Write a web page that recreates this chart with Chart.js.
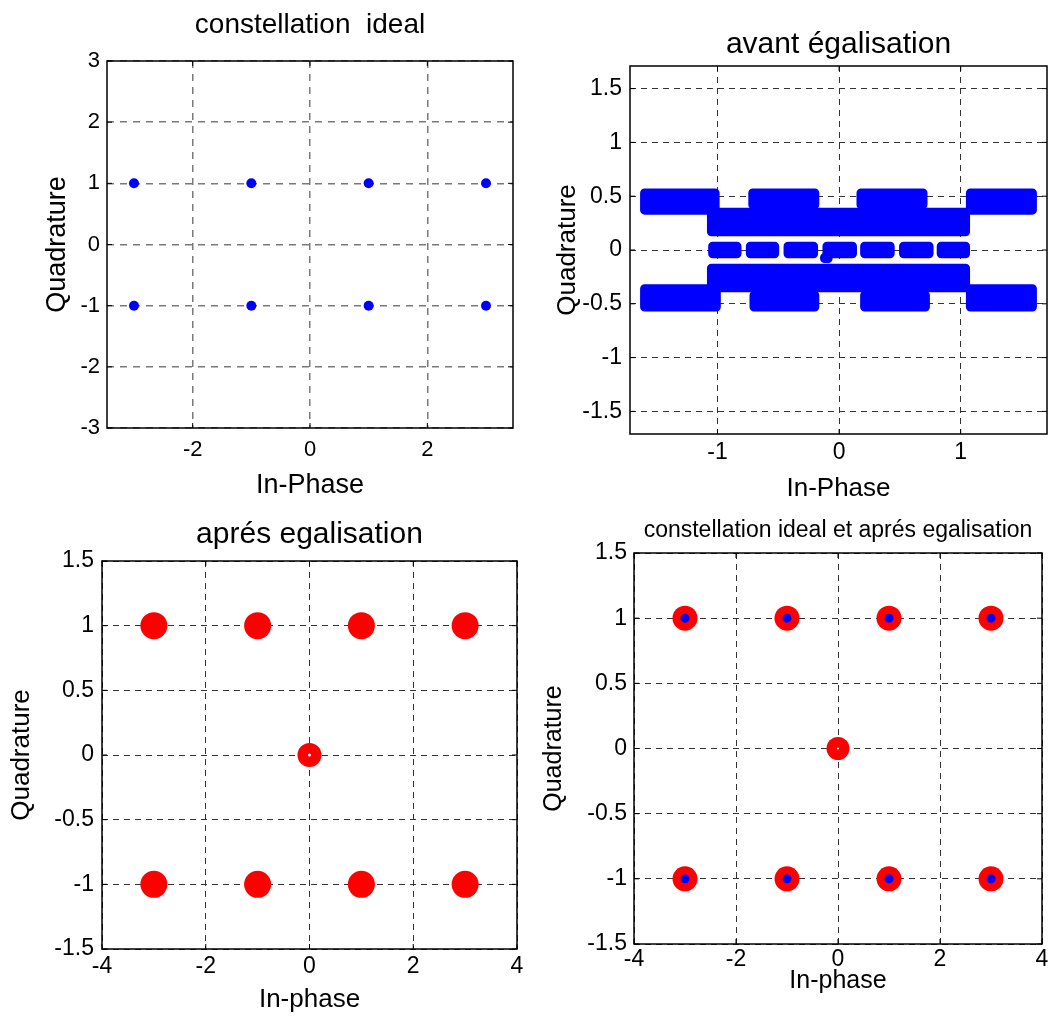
<!DOCTYPE html>
<html>
<head>
<meta charset="utf-8">
<script src="https://cdn.jsdelivr.net/npm/chart.js@4/dist/chart.umd.min.js"></script>
<style>
html, body { margin: 0; padding: 0; background: #fff; }
#page { position: relative; width: 1052px; height: 1016px; }
#page canvas { position: absolute; left: 0; top: 0; }
</style>
</head>
<body>
<div id="page">
  <canvas id="c_ideal" width="1052" height="1016"></canvas>
  <canvas id="c_avant" width="1052" height="1016"></canvas>
  <canvas id="c_apres" width="1052" height="1016"></canvas>
  <canvas id="c_both" width="1052" height="1016"></canvas>
</div>
<script>
// ideal constellation (8 points)
var idealI = [-3, -1, 1, 3, -3, -1, 1, 3];
var idealQ = [1, 1, 1, 1, -1, -1, -1, -1];

// after equalisation: cluster centres + the sample stuck at the origin
var apresI = [-3, -1, 1, 3, -3, -1, 1, 3];
var apresQ = [1, 1, 1, 1, -1, -1, -1, -1];
var zeroI = [0];
var zeroQ = [0];

// before equalisation: the blue cloud, read as blocks of marker centres (I from..to, Q from..to)
var avantIFrom = [-1.60, -0.71, 0.18, 1.08, -1.05, -1.04, -0.73, -0.42, -0.10, 0.21, 0.53, 0.84, -0.12, -1.05, -1.60, -0.70, 0.21, 1.08];
var avantITo   = [-1.02, -0.20, 0.69, 1.59, 1.04, -0.84, -0.53, -0.21, 0.11, 0.42, 0.74, 1.04, -0.09, 1.04, -1.01, -0.20, 0.71, 1.59];
var avantQFrom = [0.37, 0.42, 0.42, 0.37, 0.17, -0.035, -0.035, -0.035, -0.035, -0.035, -0.035, -0.035, -0.08, -0.35, -0.53, -0.53, -0.53, -0.53];
var avantQTo   = [0.53, 0.53, 0.53, 0.53, 0.35, 0.035, 0.035, 0.035, 0.035, 0.035, 0.035, 0.035, -0.07, -0.17, -0.36, -0.42, -0.42, -0.36];

// axis ranges and ticks
var idealXRange = [-3.46, 3.46];
var idealYRange = [-3, 3];
var idealXTicks = [-2, 0, 2];
var idealYTicks = [-3, -2, -1, 0, 1, 2, 3];

var avantXRange = [-1.72, 1.71];
var avantYRange = [-1.71, 1.71];
var avantXTicks = [-1, 0, 1];
var avantYTicks = [-1.5, -1, -0.5, 0, 0.5, 1, 1.5];

var apresXRange = [-4, 4];
var apresYRange = [-1.5, 1.5];
var apresXTicks = [-4, -2, 0, 2, 4];
var apresYTicks = [-1.5, -1, -0.5, 0, 0.5, 1, 1.5];

var PAGE_W = 1052, PAGE_H = 1016;
var BLUE = '#0000ff', RED = '#ff0000';

Chart.defaults.font.family = "'Liberation Sans', Arial, sans-serif";
Chart.defaults.color = '#000';

function pts(xs, ys) {
  return xs.map(function(x, i) { return {x: x, y: ys[i]}; });
}

// black box round the axes with small inward tick marks, like matlab
var frame = {
  id: 'frame',
  afterDraw: function(chart) {
    var a = chart.chartArea, ctx = chart.ctx;
    var sx = chart.scales.x, sy = chart.scales.y, len = 5;
    ctx.save();
    ctx.strokeStyle = '#000';
    ctx.lineWidth = 1.5;
    ctx.strokeRect(a.left, a.top, a.right - a.left, a.bottom - a.top);
    ctx.lineWidth = 1;
    ctx.beginPath();
    sx.ticks.forEach(function(t) {
      var p = sx.getPixelForValue(t.value);
      ctx.moveTo(p, a.bottom); ctx.lineTo(p, a.bottom - len);
      ctx.moveTo(p, a.top); ctx.lineTo(p, a.top + len);
    });
    sy.ticks.forEach(function(t) {
      var p = sy.getPixelForValue(t.value);
      ctx.moveTo(a.left, p); ctx.lineTo(a.left + len, p);
      ctx.moveTo(a.right, p); ctx.lineTo(a.right - len, p);
    });
    ctx.stroke();
    ctx.restore();
  }
};

function dots(xs, ys, color, r) {
  return {
    data: pts(xs, ys),
    backgroundColor: color,
    borderColor: color,
    borderWidth: 0,
    pointRadius: r,
    pointHoverRadius: r
  };
}

function plot(id, box, sizes, texts, grid, xRange, yRange, xTicks, yTicks, datasets) {
  var tLh = sizes.title * 1.2, kLh = sizes.tick * 1.2, aLh = sizes.axis * 1.2;
  var padL = box.yTitleX - aLh / 2;
  var padT = box.titleY - tLh / 2;
  var xBottom = box.xTitleY + aLh / 2;
  var gridOpts = { color: grid.color, lineWidth: grid.width, drawTicks: false };
  var borderOpts = { display: false, dash: grid.dash };
  return new Chart(document.getElementById(id), {
    type: 'scatter',
    data: { datasets: datasets },
    options: {
      responsive: false,
      animation: false,
      events: [],
      layout: {
        autoPadding: false,
        padding: { left: padL, top: padT, right: PAGE_W - box.right, bottom: Math.max(PAGE_H - xBottom, 0) }
      },
      plugins: {
        legend: { display: false },
        tooltip: { enabled: false },
        title: {
          display: true,
          text: texts[0],
          color: '#000',
          fullSize: false,
          font: { size: sizes.title, weight: 'normal' },
          padding: { top: 0, bottom: box.top - padT - tLh }
        }
      },
      scales: {
        x: {
          type: 'linear',
          min: xRange[0],
          max: xRange[1],
          afterBuildTicks: function(s) { s.ticks = xTicks.map(function(v) { return {value: v}; }); },
          afterFit: function(s) { s.height = xBottom - box.bottom; },
          grid: gridOpts,
          border: borderOpts,
          ticks: {
            color: '#000',
            font: { size: sizes.tick },
            padding: box.xTickY - box.bottom - kLh / 2,
            maxRotation: 0,
            autoSkip: false,
            callback: function(v) { return String(v); }
          },
          title: { display: true, text: texts[1], color: '#000', font: { size: sizes.axis }, padding: 0 }
        },
        y: {
          type: 'linear',
          min: yRange[0],
          max: yRange[1],
          afterBuildTicks: function(s) { s.ticks = yTicks.map(function(v) { return {value: v}; }); },
          afterFit: function(s) { s.width = box.left - padL; },
          grid: gridOpts,
          border: borderOpts,
          ticks: {
            color: '#000',
            font: { size: sizes.tick },
            padding: box.left - box.yTickX,
            autoSkip: false,
            callback: function(v) { return String(v); }
          },
          title: { display: true, text: texts[2], color: '#000', font: { size: sizes.axis }, padding: 0 }
        }
      }
    },
    plugins: [frame]
  });
}

var greyGrid = { color: '#7a7a7a', width: 1.5, dash: [7, 6] };
var darkGrid = { color: '#333', width: 1, dash: [6, 5] };

// note: chart.js paints dataset 0 last, so the top layer goes first in each list

// top left
plot('c_ideal',
  { left: 107, right: 513, top: 61, bottom: 428, titleY: 25, xTickY: 450, xTitleY: 486, yTickX: 100, yTitleX: 58 },
  { title: 28, tick: 22, axis: 27 },
  ['constellation  ideal', 'In-Phase', 'Quadrature'],
  greyGrid,
  idealXRange, idealYRange, idealXTicks, idealYTicks,
  [dots(idealI, idealQ, BLUE, 5)]
);

// top right - each block is a closed outline, filled, with a fat round-joined stroke (= marker size)
var avantSets = [];
for (var i = 0; i < avantIFrom.length; i++) {
  avantSets.push({
    type: 'line',
    data: [
      {x: avantIFrom[i], y: avantQTo[i]},
      {x: avantITo[i], y: avantQTo[i]},
      {x: avantITo[i], y: avantQFrom[i]},
      {x: avantIFrom[i], y: avantQFrom[i]},
      {x: avantIFrom[i], y: avantQTo[i]}
    ],
    fill: 'shape',
    backgroundColor: BLUE,
    borderColor: BLUE,
    borderWidth: 9,
    borderJoinStyle: 'round',
    borderCapStyle: 'round',
    pointRadius: 0,
    tension: 0
  });
}
plot('c_avant',
  { left: 630, right: 1047, top: 66, bottom: 434, titleY: 45, xTickY: 453, xTitleY: 489, yTickX: 622, yTitleX: 568 },
  { title: 30, tick: 23, axis: 26 },
  ['avant égalisation', 'In-Phase', 'Quadrature'],
  darkGrid,
  avantXRange, avantYRange, avantXTicks, avantYTicks,
  avantSets
);

// bottom left
plot('c_apres',
  { left: 102, right: 517, top: 561, bottom: 949, titleY: 535, xTickY: 967, xTitleY: 1000, yTickX: 94, yTitleX: 22 },
  { title: 30, tick: 23, axis: 26 },
  ['aprés egalisation', 'In-phase', 'Quadrature'],
  darkGrid,
  apresXRange, apresYRange, apresXTicks, apresYTicks,
  [dots(zeroI, zeroQ, '#fff', 1.5), dots(zeroI, zeroQ, RED, 12), dots(apresI, apresQ, RED, 13.5)]
);

// bottom right
plot('c_both',
  { left: 634, right: 1042, top: 553, bottom: 944, titleY: 531, xTickY: 960, xTitleY: 981, yTickX: 627, yTitleX: 554 },
  { title: 23, tick: 23, axis: 25 },
  ['constellation ideal et aprés egalisation', 'In-phase', 'Quadrature'],
  darkGrid,
  apresXRange, apresYRange, apresXTicks, apresYTicks,
  [dots(idealI, idealQ, BLUE, 4.5), dots(zeroI, zeroQ, '#fff', 1), dots(zeroI, zeroQ, RED, 11.5), dots(apresI, apresQ, RED, 12.5)]
);
</script>
</body>
</html>
